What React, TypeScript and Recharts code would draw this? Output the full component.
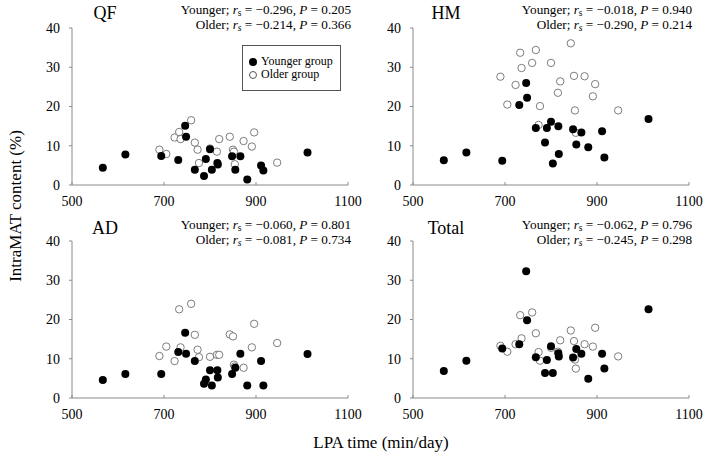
import { Scatter, ScatterChart, XAxis, YAxis } from "recharts";

const youngerLpa = [567, 616, 694, 731, 746, 748, 767, 787, 791, 800, 804, 816, 817, 848, 855, 866, 881, 911, 916, 1012];
const olderLpa = [690, 705, 723, 733, 736, 759, 767, 773, 776, 800, 815, 820, 843, 850, 852, 854, 873, 891, 896, 946];

const qfYounger = [4.4, 7.8, 7.4, 6.4, 15.1, 12.3, 3.9, 2.3, 6.6, 9.1, 3.9, 5.6, 5.2, 7.3, 3.9, 7.3, 1.4, 5.0, 3.7, 8.3];
const qfOlder = [9.0, 7.9, 12.1, 13.5, 11.7, 16.5, 10.8, 9.0, 5.6, 9.3, 8.5, 11.7, 12.3, 9.0, 8.5, 5.3, 11.2, 9.8, 13.4, 5.7];

const hmYounger = [6.3, 8.3, 6.2, 20.4, 26.0, 22.2, 14.5, 10.8, 14.5, 16.1, 5.5, 15.0, 7.9, 14.2, 10.3, 13.4, 9.6, 13.7, 7.0, 16.8];
const hmOlder = [27.6, 20.5, 25.5, 33.7, 29.8, 31.1, 34.4, 15.3, 20.1, 31.1, 23.5, 26.4, 36.1, 27.8, 19.0, 13.3, 27.7, 22.6, 25.7, 19.0];

const adYounger = [4.6, 6.1, 6.1, 11.7, 16.6, 11.3, 9.4, 3.6, 4.7, 7.1, 3.2, 7.1, 5.2, 6.1, 7.7, 11.3, 3.2, 9.4, 3.2, 11.2];
const adOlder = [10.7, 13.1, 9.4, 22.6, 12.9, 24.0, 16.1, 12.3, 10.4, 10.5, 11.0, 11.0, 16.2, 15.7, 8.5, 8.0, 7.7, 12.9, 18.9, 14.0];

const totalYounger = [6.9, 9.5, 12.6, 13.7, 32.3, 19.8, 10.4, 6.4, 9.7, 13.2, 6.4, 11.4, 10.6, 10.3, 12.5, 11.3, 4.9, 11.3, 7.5, 22.6];
const totalOlder = [13.3, 11.8, 13.7, 21.1, 15.2, 21.8, 16.5, 11.7, 9.5, 12.8, 11.8, 14.7, 17.2, 14.5, 9.8, 7.5, 13.7, 13.1, 17.9, 10.6];

const xTicks = [500, 700, 900, 1100];
const yTicks = [0, 10, 20, 30, 40];

const panels = [
  { name: "QF", younger: qfYounger, older: qfOlder, stats: ["−0.296", "0.205", "−0.214", "0.366"], left: 0, top: 0, textTop: 2 },
  { name: "HM", younger: hmYounger, older: hmOlder, stats: ["−0.018", "0.940", "−0.290", "0.214"], left: 341, top: 0, textTop: 2 },
  { name: "AD", younger: adYounger, older: adOlder, stats: ["−0.060", "0.801", "−0.081", "0.734"], left: 0, top: 213, textTop: 4 },
  { name: "Total", younger: totalYounger, older: totalOlder, stats: ["−0.062", "0.796", "−0.245", "0.298"], left: 341, top: 213, textTop: 4 },
];

const FONT = "Liberation Serif, Times New Roman, serif";
const AXIS = "#8a8a8a";

const toRows = (xs: number[], ys: number[]) => xs.map((x, i) => ({ x, y: ys[i] }));

const filledDot = (p: any) => <circle cx={p.cx} cy={p.cy} r={4} fill="#000" />;
const openDot = (p: any) => <circle cx={p.cx} cy={p.cy} r={3.7} fill="#fff" stroke="#6e6e6e" strokeWidth={0.9} />;

const subStyle = { fontSize: "9.5px", verticalAlign: "-2px", lineHeight: 0 };
const statStyle = { fontSize: "13.2px", lineHeight: "15px", whiteSpace: "nowrap" as const };

const Panel = ({ p }: { p: (typeof panels)[number] }) => (
  <div style={{ position: "absolute", left: p.left, top: p.top, width: 371, height: 215 }}>
    <ScatterChart width={371} height={215} margin={{ top: 28, right: 23, bottom: 0, left: 42 }}>
      <XAxis
        type="number"
        dataKey="x"
        domain={[500, 1100]}
        ticks={xTicks}
        interval={0}
        height={30}
        tickSize={-3}
        tickMargin={14}
        axisLine={{ stroke: AXIS }}
        tickLine={{ stroke: AXIS }}
        tick={{ fill: "#000", fontSize: 14, fontFamily: FONT }}
      />
      <YAxis
        type="number"
        dataKey="y"
        domain={[0, 40]}
        ticks={yTicks}
        interval={0}
        width={30}
        tickSize={3}
        tickMargin={9}
        axisLine={{ stroke: AXIS }}
        tickLine={{ stroke: AXIS }}
        tick={{ fill: "#000", fontSize: 14, fontFamily: FONT }}
      />
      <Scatter data={toRows(olderLpa, p.older)} shape={openDot} isAnimationActive={false} />
      <Scatter data={toRows(youngerLpa, p.younger)} shape={filledDot} isAnimationActive={false} />
    </ScatterChart>
    <div style={{ position: "absolute", left: 72, width: 66, top: p.textTop, textAlign: "center", fontSize: "18px", lineHeight: "22px" }}>
      {p.name}
    </div>
    <div style={{ position: "absolute", right: 20, top: p.textTop, textAlign: "right" }}>
      <div style={statStyle}>
        Younger; <i>r</i>
        <sub style={subStyle}>s</sub> = {p.stats[0]}, <i>P</i> = {p.stats[1]}
      </div>
      <div style={statStyle}>
        Older; <i>r<sub style={subStyle}>s</sub></i> = {p.stats[2]}, <i>P</i> = {p.stats[3]}
      </div>
    </div>
  </div>
);

export default function App() {
  return (
    <div style={{ position: "absolute", left: 0, top: 0, width: 712, height: 459, background: "#fff", fontFamily: FONT, color: "#000", overflow: "hidden" }}>
      {panels.map((p) => (
        <Panel key={p.name} p={p} />
      ))}
      <div
        style={{
          position: "absolute",
          left: 242,
          top: 45,
          width: 99,
          height: 46,
          border: "1px solid #555",
          background: "#fff",
          fontSize: "12px",
          lineHeight: "13px",
          boxSizing: "border-box",
          padding: "9px 0 0 6px",
        }}
      >
        <div style={{ display: "flex", alignItems: "center" }}>
          <span style={{ width: 8, height: 8, borderRadius: 4, background: "#000", marginRight: 4 }} />
          Younger group
        </div>
        <div style={{ display: "flex", alignItems: "center" }}>
          <span style={{ width: 8, height: 8, borderRadius: 4, border: "1px solid #555", marginRight: 4, boxSizing: "border-box" }} />
          Older group
        </div>
      </div>
      <div
        style={{
          position: "absolute",
          left: 16,
          top: 206,
          transform: "translate(-50%, -50%) rotate(-90deg)",
          fontSize: "17px",
          whiteSpace: "nowrap",
        }}
      >
        IntraMAT content (%)
      </div>
      <div style={{ position: "absolute", left: 381, top: 443, transform: "translate(-50%, -50%)", fontSize: "17px", whiteSpace: "nowrap" }}>
        LPA time (min/day)
      </div>
    </div>
  );
}
